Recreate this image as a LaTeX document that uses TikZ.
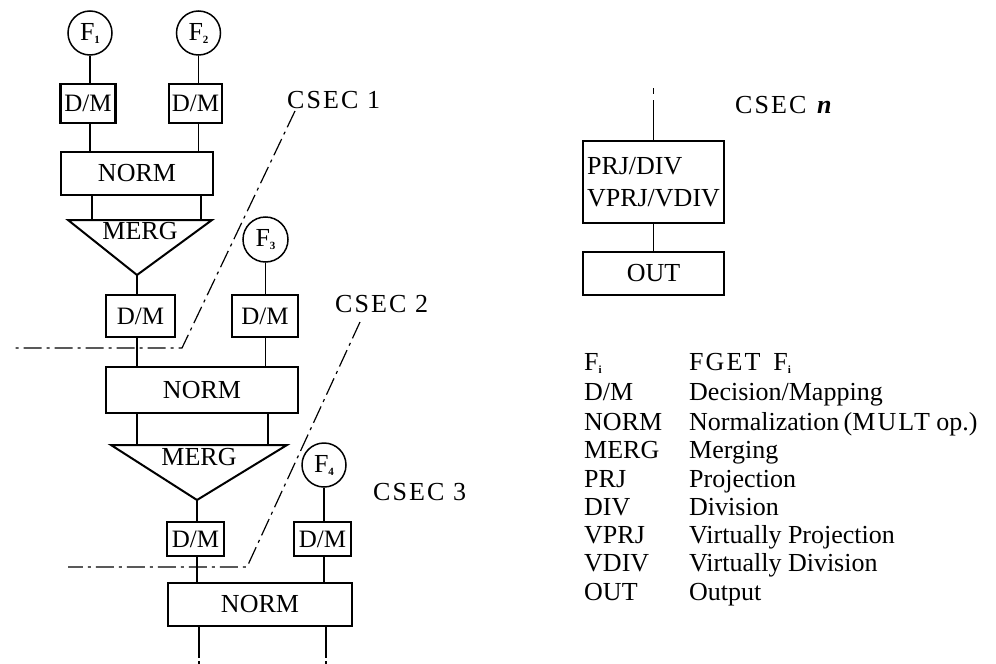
\documentclass[tikz,border=0pt]{standalone}
\usepackage{fontspec}
\setmainfont{Liberation Serif}
\newfontfamily\spcfont[LetterSpace=8]{Liberation Serif}
\newcommand\lblsize{\fontsize{26}{31.7}\selectfont}
\newcommand\dmtext{{\fontsize{25}{30}\selectfont D/M}}
\newcommand\subs[1]{\raisebox{-3pt}{\fontsize{11}{11}\selectfont\bfseries #1}}
\begin{document}
\begin{tikzpicture}[x=1pt,y=-1pt,
  box/.style={draw,line width=2.2pt,rectangle,inner sep=0pt,font=\lblsize},
  fcirc/.style={draw,circle,line width=1.5pt,minimum size=44pt,inner sep=0pt,font=\lblsize},
  conn/.style={line width=1.3pt},
  tri/.style={line width=2pt,line join=miter},
  sect/.style={line width=1.2pt,dash pattern=on 18pt off 5pt on 3pt off 5pt},
  lbl/.style={inner sep=0pt,anchor=base west,font=\lblsize},
  key/.style={inner sep=0pt,anchor=base west,font=\lblsize}]
\useasboundingbox (0,0) rectangle (996,664);

% ---- first stage: two fetches, normalisation and merge ----
\node[fcirc] (f1) at (90,33) {F\subs{1}};
\node[fcirc] (f2) at (198.5,33) {F\subs{2}};
\node[box,minimum width=55pt,minimum height=39pt] (dm1) at (88,103.5) {\dmtext};
\node[box,minimum width=53pt,minimum height=39pt] (dm2) at (195.5,103.5) {\dmtext};
\node[box,minimum width=152pt,minimum height=43pt] (norm1) at (137,173.5) {NORM};
\draw[conn] (f1.south) -- (f1.south |- dm1.north);
\draw[conn] (f2.south) -- (f2.south |- dm2.north);
\draw[conn] (f1.south |- dm1.south) -- (f1.south |- norm1.north);
\draw[conn] (f2.south |- dm2.south) -- (f2.south |- norm1.north);

\coordinate (m1nw) at (68,220);
\coordinate (m1ne) at (212,220);
\coordinate (m1tip) at (137,275);
\coordinate (m1l) at (92,220);
\coordinate (m1r) at (201,220);
\draw[tri] (m1nw) -- (m1ne) -- (m1tip) -- cycle;
\node[inner sep=0pt,font=\lblsize] (m1) at (140,231.5) {MERG};
\draw[conn] (norm1.south -| m1l) -- (m1l);
\draw[conn] (norm1.south -| m1r) -- (m1r);

% ---- second stage ----
\node[box,minimum width=69pt,minimum height=42pt] (dm3) at (140.5,316) {\dmtext};
\node[fcirc,minimum size=45pt] (f3) at (265.5,239.5) {F\subs{3}};
\node[box,minimum width=66pt,minimum height=42pt] (dm4) at (265,316) {\dmtext};
\node[box,minimum width=192pt,minimum height=46pt] (norm2) at (202,390) {NORM};
\draw[conn] (m1tip) -- (m1tip |- dm3.north);
\draw[conn] (f3.south) -- (f3.south |- dm4.north);
\draw[conn] (m1tip |- dm3.south) -- (m1tip |- norm2.north);
\draw[conn] (f3.south |- dm4.south) -- (f3.south |- norm2.north);

\coordinate (m2nw) at (111,445);
\coordinate (m2ne) at (287,445);
\coordinate (m2tip) at (197,500);
\coordinate (m2l) at (137,445);
\coordinate (m2r) at (268,445);
\draw[tri] (m2nw) -- (m2ne) -- (m2tip) -- cycle;
\node[inner sep=0pt,font=\lblsize] (m2) at (199,457) {MERG};
\draw[conn] (norm2.south -| m2l) -- (m2l);
\draw[conn] (norm2.south -| m2r) -- (m2r);

% ---- third stage ----
\node[box,minimum width=57pt,minimum height=34pt] (dm5) at (195.5,539) {\dmtext};
\node[fcirc] (f4) at (324,465) {F\subs{4}};
\node[box,minimum width=57pt,minimum height=34pt] (dm6) at (322.5,539) {\dmtext};
\node[box,minimum width=184pt,minimum height=43pt] (norm3) at (260,604.5) {NORM};
\draw[conn] (m2tip) -- (m2tip |- dm5.north);
\draw[conn] (f4.south) -- (f4.south |- dm6.north);
\draw[conn] (m2tip |- dm5.south) -- (m2tip |- norm3.north);
\draw[conn] (f4.south |- dm6.south) -- (f4.south |- norm3.north);

\coordinate (b1) at (199,670);
\coordinate (b2) at (326,670);
\draw[conn,dash pattern=on 31pt off 3pt on 20pt] (norm3.south -| b1) -- (b1);
\draw[conn,dash pattern=on 31pt off 3pt on 20pt] (norm3.south -| b2) -- (b2);

% ---- section boundaries ----
\coordinate (c1a) at (295,111);
\coordinate (c1b) at (182,348);
\coordinate (c1c) at (13,348);
\draw[sect] (c1a) -- (c1b) -- (c1c);
\coordinate (c2a) at (360,322);
\coordinate (c2b) at (247,567);
\coordinate (c2c) at (68,567);
\draw[sect] (c2a) -- (c2b) -- (c2c);

\node[lbl] (cs1) at (287,108) {\spcfont CSEC 1};
\node[lbl] (cs2) at (335,312) {\spcfont CSEC 2};
\node[lbl] (cs3) at (373,500) {\spcfont CSEC 3};
\node[lbl] (csn) at (735,113) {\spcfont CSEC \textbf{\textit{n}}};

% ---- last section ----
\node[box,minimum width=141pt,minimum height=82pt,align=left] (pd) at (653.5,182) {PRJ/DIV\\VPRJ/VDIV};
\node[box,minimum width=141pt,minimum height=43pt] (out) at (653.5,273.5) {OUT};
\coordinate (cn) at (654,88);
\draw[conn,dash pattern=on 40pt off 6pt on 7pt] (pd.north) -- (pd.north |- cn);
\draw[conn] (pd.south) -- (out.north);

% ---- key ----
\node[key] (k1) at (584,370) {F\subs{i}};
\node[key] (k2) at (584,400) {D/M};
\node[key] (k3) at (584,430) {NORM};
\node[key] (k4) at (584,458) {MERG};
\node[key] (k5) at (584,487) {PRJ};
\node[key] (k6) at (584,515) {DIV};
\node[key] (k7) at (584,543) {VPRJ};
\node[key] (k8) at (584,571) {VDIV};
\node[key] (k9) at (584,600) {OUT};
\node[key] (t1) at (689,370) {{\spcfont FGET}\ \ F\subs{i}};
\node[key] (t2) at (689,400) {Decision/Mapping};
\node[key] (t3) at (689,430) {Normalization\,({\spcfont MULT} op.)};
\node[key] (t4) at (689,458) {Merging};
\node[key] (t5) at (689,487) {Projection};
\node[key] (t6) at (689,515) {Division};
\node[key] (t7) at (689,543) {Virtually Projection};
\node[key] (t8) at (689,571) {Virtually Division};
\node[key] (t9) at (689,600) {Output};
\end{tikzpicture}
\end{document}
